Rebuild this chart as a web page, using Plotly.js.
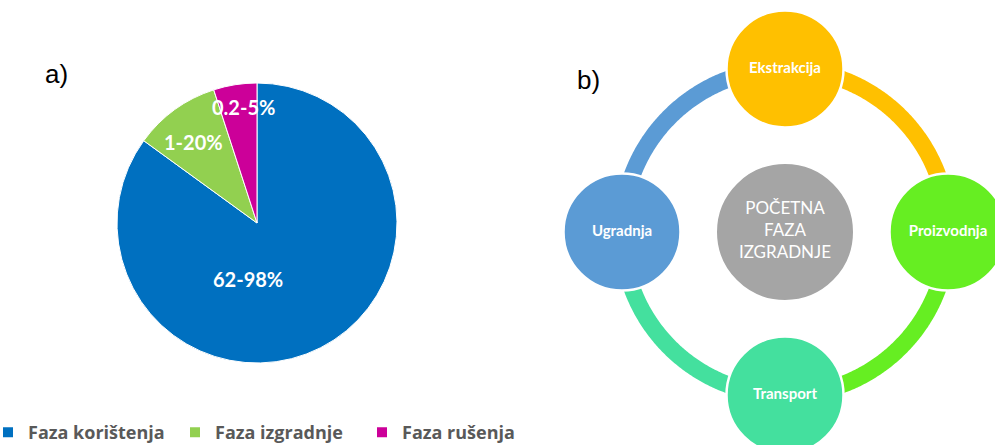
<!DOCTYPE html>
<html>
<head>
<meta charset="utf-8">
<script src="https://cdn.plot.ly/plotly-3.0.1.min.js"></script>
<style>html,body{margin:0;padding:0;background:#fff;}#chart{width:995px;height:445px;}</style>
</head>
<body>
<div id="chart"></div>
<script>
// ---- Data: panel a) pie ----
const phaseLabels = ["Faza korištenja", "Faza izgradnje", "Faza rušenja"];
const phaseShares = [85, 10, 5];
const phaseRanges = ["62-98%", "1-20%", "0.2-5%"];
const phaseColors = ["#0070C0", "#92D050", "#CC0099"];

// ---- Data: panel b) cycle ----
const cycleSteps = ["Ekstrakcija", "Proizvodnja", "Transport", "Ugradnja"];
const cycleAngles = [90, 0, -90, -180];
const cycleColors = ["#FFC000", "#66EE22", "#44E09E", "#5B9BD5"];
const centreLabel = ["POČETNA", "FAZA", "IZGRADNJE"];
const centreColor = "#A5A5A5";

const W = 995, H = 445;
const FONT = "Lato, 'Open Sans', sans-serif";

// pie geometry (pixels)
const pieCx = 257, pieCy = 223, pieR = 140;

const traces = [];
traces.push({
  type: "pie",
  labels: phaseLabels,
  values: phaseShares,
  text: phaseRanges,
  textinfo: "none",
  sort: false,
  direction: "clockwise",
  rotation: 0,
  marker: {colors: phaseColors, line: {color: "#ffffff", width: 1}},
  domain: {x: [(pieCx - pieR) / W, (pieCx + pieR) / W], y: [(H - pieCy - pieR) / H, (H - pieCy + pieR) / H]},
  hoverinfo: "label+text",
  showlegend: true
});

// cycle ring arcs: each arc starts at a step and runs clockwise to the next one
const ringR = 1;
for (let i = 0; i < cycleSteps.length; i++) {
  const a0 = cycleAngles[(i + 3) % 4];   // previous step (source)
  const a1 = a0 - 90;
  const xs = [], ys = [];
  for (let k = 0; k <= 180; k++) {
    const a = (a0 + (a1 - a0) * k / 180) * Math.PI / 180;
    xs.push(ringR * Math.cos(a));
    ys.push(ringR * Math.sin(a));
  }
  traces.push({
    type: "scatter", mode: "lines", x: xs, y: ys,
    xaxis: "x", yaxis: "y",
    line: {color: cycleColors[(i + 3) % 4], width: 17, simplify: false},
    hoverinfo: "skip", showlegend: false
  });
}
// centre circle
traces.push({
  type: "scatter", mode: "markers+text", x: [0], y: [0],
  xaxis: "x", yaxis: "y",
  marker: {size: 138, color: centreColor, line: {color: "#ffffff", width: 2}},
  text: [centreLabel.join("<br>")], textposition: "middle center",
  textfont: {family: FONT, size: 17, color: "#ffffff"},
  hoverinfo: "skip", showlegend: false, cliponaxis: false
});
// step circles
traces.push({
  type: "scatter", mode: "markers+text",
  x: cycleAngles.map(a => ringR * Math.cos(a * Math.PI / 180)),
  y: cycleAngles.map(a => ringR * Math.sin(a * Math.PI / 180)),
  xaxis: "x", yaxis: "y",
  marker: {size: 117, color: cycleColors, line: {color: "#ffffff", width: 2.5}, opacity: 1},
  text: cycleSteps, textposition: "middle center",
  textfont: {family: FONT, size: 15, color: "#ffffff", weight: "bold"},
  hoverinfo: "text", showlegend: false
});

// axes for panel b) : centre at pixel (785,232), 163 px per unit
const cx = 785, cy = 232, ppu = 163;
const x0 = 550;
const xaxis = {domain: [x0 / W, 1], range: [(x0 - cx) / ppu, (W - cx) / ppu], visible: false, fixedrange: true};
const yaxis = {domain: [0, 1], range: [(cy - H) / ppu, cy / ppu], visible: false, fixedrange: true};

// pie labels as annotations placed in pie pixel space
function pieAnno(txt, dx, dy) {
  return {
    xref: "paper", yref: "paper",
    x: (pieCx + dx) / W, y: (H - (pieCy + dy)) / H,
    text: txt, showarrow: false,
    font: {family: FONT, size: 20, color: "#ffffff", weight: "bold"},
    xanchor: "center", yanchor: "middle"
  };
}
const pieOffsets = [[-9, 56], [-64, -81], [-14, -116]];
const annotations = phaseRanges.map((t, i) => pieAnno(t, pieOffsets[i][0], pieOffsets[i][1]));
annotations.push({xref: "paper", yref: "paper", x: 56 / W, y: 1 - 74 / H, text: "a)", showarrow: false,
  font: {family: "'Liberation Sans', Arial, sans-serif", size: 26, color: "#000"}, xanchor: "center", yanchor: "middle"});
annotations.push({xref: "paper", yref: "paper", x: 588 / W, y: 1 - 80 / H, text: "b)", showarrow: false,
  font: {family: "'Liberation Sans', Arial, sans-serif", size: 26, color: "#000"}, xanchor: "center", yanchor: "middle"});

const layout = {
  width: W, height: H,
  margin: {l: 0, r: 0, t: 0, b: 0, autoexpand: false},
  paper_bgcolor: "#ffffff", plot_bgcolor: "rgba(0,0,0,0)",
  xaxis: xaxis, yaxis: yaxis,
  showlegend: true,
  legend: {
    orientation: "h", x: -12 / W, xanchor: "left", y: -6 / H, yanchor: "bottom",
    font: {family: "'Open Sans', sans-serif", size: 18, color: "#595959", weight: "bold"},
    entrywidth: 142, entrywidthmode: "pixels",
    itemsizing: "constant", traceorder: "normal", bgcolor: "rgba(0,0,0,0)"
  },
  annotations: annotations
};

Plotly.newPlot("chart", traces, layout, {staticPlot: true, displayModeBar: false});
</script>
</body>
</html>
